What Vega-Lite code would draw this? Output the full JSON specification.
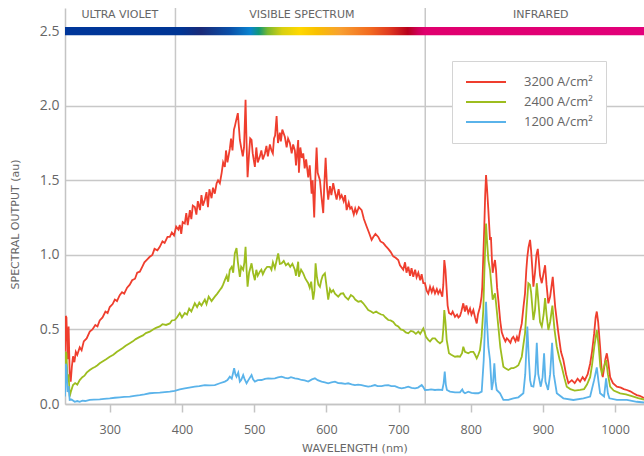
{
  "$schema": "https://vega.github.io/schema/vega-lite/v6.json",
  "width": 579,
  "height": 396,
  "autosize": {"type": "none"},
  "padding": {"left": 65, "top": 8, "right": 0, "bottom": 52},
  "config": {
    "view": {"stroke": null},
    "font": "Open Sans",
    "axis": {"domainColor": "#c4c4c4", "domainWidth": 1.5, "tickColor": "#c4c4c4", "tickWidth": 1.5, "gridColor": "#c8c8c8", "gridWidth": 1.5, "labelColor": "#666666", "titleColor": "#666666", "titleFontWeight": "normal", "titleFont": "DejaVu Sans"}
  },
  "datasets": {
    "separators": [{"w": 391}, {"w": 737}],
    "band": [{"w1": 238, "w2": 1040, "v1": 2.473, "v2": 2.527}],
    "regions": [
      {"t": "ULTRA VIOLET", "w": 314, "v": 2.607},
      {"t": "VISIBLE SPECTRUM", "w": 566, "v": 2.607},
      {"t": "INFRARED", "w": 897, "v": 2.607}
    ],
    "s3200": [{"w":238,"v":0.35},{"w":239,"v":0.59},{"w":240,"v":0.58},{"w":241.5,"v":0.3},{"w":243,"v":0.52},{"w":244.5,"v":0.2},{"w":245.9,"v":0.15},{"w":247.5,"v":0.25},{"w":249.1,"v":0.32},{"w":251,"v":0.28},{"w":253,"v":0.35},{"w":255,"v":0.33},{"w":258.4,"v":0.38},{"w":261,"v":0.36},{"w":264,"v":0.42},{"w":268,"v":0.44},{"w":272.3,"v":0.485},{"w":276,"v":0.5},{"w":280,"v":0.53},{"w":283,"v":0.52},{"w":286.1,"v":0.56},{"w":290,"v":0.58},{"w":294,"v":0.62},{"w":297,"v":0.61},{"w":300,"v":0.65},{"w":304,"v":0.67},{"w":307,"v":0.7},{"w":310,"v":0.69},{"w":313.8,"v":0.73},{"w":317,"v":0.75},{"w":320,"v":0.74},{"w":324,"v":0.78},{"w":327.7,"v":0.8},{"w":331,"v":0.83},{"w":335,"v":0.84},{"w":338,"v":0.88},{"w":341.6,"v":0.887},{"w":345,"v":0.92},{"w":348,"v":0.95},{"w":352,"v":0.97},{"w":355.4,"v":0.987},{"w":359,"v":1.0},{"w":362,"v":1.04},{"w":366,"v":1.03},{"w":369.3,"v":1.054},{"w":373,"v":1.09},{"w":376,"v":1.08},{"w":380,"v":1.12},{"w":383.2,"v":1.12},{"w":386,"v":1.15},{"w":389,"v":1.13},{"w":392,"v":1.19},{"w":395,"v":1.17},{"w":397,"v":1.2},{"w":399,"v":1.14},{"w":401,"v":1.22},{"w":403.9,"v":1.21},{"w":406,"v":1.28},{"w":408,"v":1.2},{"w":411,"v":1.3},{"w":413,"v":1.24},{"w":415,"v":1.33},{"w":417.8,"v":1.32},{"w":420,"v":1.27},{"w":422,"v":1.36},{"w":425,"v":1.3},{"w":427,"v":1.4},{"w":429,"v":1.33},{"w":431.7,"v":1.37},{"w":434,"v":1.42},{"w":436,"v":1.32},{"w":438,"v":1.44},{"w":441,"v":1.38},{"w":443,"v":1.45},{"w":445.5,"v":1.41},{"w":448,"v":1.48},{"w":450,"v":1.5},{"w":452.5,"v":1.48},{"w":455,"v":1.55},{"w":457,"v":1.62},{"w":459.4,"v":1.59},{"w":461,"v":1.7},{"w":463,"v":1.62},{"w":466.3,"v":1.71},{"w":468,"v":1.78},{"w":470,"v":1.7},{"w":472,"v":1.84},{"w":473.2,"v":1.86},{"w":475,"v":1.9},{"w":477.4,"v":1.95},{"w":479,"v":1.85},{"w":480.2,"v":1.77},{"w":482,"v":1.72},{"w":484.3,"v":1.66},{"w":486,"v":1.72},{"w":488.1,"v":2.04},{"w":489.5,"v":1.75},{"w":490.9,"v":1.52},{"w":493,"v":1.68},{"w":494.5,"v":1.78},{"w":496.4,"v":1.77},{"w":498,"v":1.68},{"w":501,"v":1.59},{"w":503,"v":1.72},{"w":505,"v":1.62},{"w":507.9,"v":1.66},{"w":510,"v":1.7},{"w":512,"v":1.64},{"w":514.9,"v":1.68},{"w":517,"v":1.73},{"w":519,"v":1.66},{"w":521.8,"v":1.74},{"w":524,"v":1.7},{"w":525.9,"v":1.68},{"w":527.5,"v":1.78},{"w":529,"v":1.8},{"w":531.1,"v":1.93},{"w":533,"v":1.75},{"w":535.6,"v":1.82},{"w":537,"v":1.76},{"w":539,"v":1.84},{"w":542.6,"v":1.79},{"w":545,"v":1.72},{"w":547,"v":1.78},{"w":549.5,"v":1.75},{"w":552,"v":1.68},{"w":554,"v":1.74},{"w":556.4,"v":1.7},{"w":558,"v":1.6},{"w":561,"v":1.77},{"w":562,"v":1.55},{"w":564,"v":1.72},{"w":566,"v":1.65},{"w":568,"v":1.68},{"w":570,"v":1.58},{"w":572,"v":1.64},{"w":574.9,"v":1.52},{"w":577,"v":1.6},{"w":579.6,"v":1.41},{"w":581,"v":1.5},{"w":583.2,"v":1.25},{"w":585,"v":1.55},{"w":586.5,"v":1.72},{"w":588,"v":1.55},{"w":591.1,"v":1.5},{"w":593,"v":1.4},{"w":595.7,"v":1.28},{"w":597,"v":1.45},{"w":599,"v":1.65},{"w":601,"v":1.45},{"w":602.6,"v":1.37},{"w":605,"v":1.46},{"w":607,"v":1.4},{"w":609.5,"v":1.48},{"w":612,"v":1.42},{"w":614.2,"v":1.37},{"w":617,"v":1.44},{"w":619,"v":1.38},{"w":621.2,"v":1.4},{"w":624,"v":1.36},{"w":626,"v":1.4},{"w":628.1,"v":1.3},{"w":631,"v":1.35},{"w":633,"v":1.31},{"w":635,"v":1.32},{"w":638,"v":1.27},{"w":640,"v":1.31},{"w":642,"v":1.28},{"w":645,"v":1.32},{"w":648.9,"v":1.3},{"w":652,"v":1.24},{"w":655.8,"v":1.19},{"w":659,"v":1.15},{"w":662.7,"v":1.1},{"w":665,"v":1.12},{"w":668,"v":1.14},{"w":671.9,"v":1.12},{"w":675,"v":1.09},{"w":678.8,"v":1.08},{"w":682,"v":1.06},{"w":685.8,"v":1.04},{"w":689,"v":1.02},{"w":692.7,"v":0.99},{"w":696,"v":0.98},{"w":699.6,"v":0.965},{"w":702,"v":0.93},{"w":706.5,"v":0.9},{"w":709,"v":0.95},{"w":711,"v":0.88},{"w":713.5,"v":0.92},{"w":716,"v":0.86},{"w":718,"v":0.91},{"w":720.4,"v":0.853},{"w":723,"v":0.9},{"w":725,"v":0.85},{"w":727.4,"v":0.88},{"w":730,"v":0.83},{"w":732,"v":0.87},{"w":734.3,"v":0.81},{"w":736.6,"v":0.81},{"w":739,"v":0.76},{"w":741.2,"v":0.74},{"w":743.6,"v":0.786},{"w":746,"v":0.75},{"w":748,"v":0.78},{"w":750.5,"v":0.742},{"w":753,"v":0.77},{"w":755,"v":0.74},{"w":757.4,"v":0.764},{"w":760.6,"v":0.72},{"w":762,"v":0.8},{"w":763.4,"v":0.965},{"w":765,"v":0.9},{"w":766.7,"v":0.764},{"w":768,"v":0.66},{"w":769.9,"v":0.61},{"w":773,"v":0.6},{"w":775,"v":0.62},{"w":778.2,"v":0.585},{"w":781,"v":0.6},{"w":783,"v":0.58},{"w":785.1,"v":0.59},{"w":787,"v":0.62},{"w":789.7,"v":0.675},{"w":792,"v":0.62},{"w":794,"v":0.66},{"w":796.6,"v":0.61},{"w":799,"v":0.64},{"w":801,"v":0.6},{"w":803.6,"v":0.63},{"w":806,"v":0.58},{"w":808.3,"v":0.54},{"w":810,"v":0.6},{"w":812.8,"v":0.65},{"w":815,"v":0.72},{"w":816,"v":0.786},{"w":818.8,"v":1.19},{"w":820,"v":1.4},{"w":821.2,"v":1.535},{"w":822.5,"v":1.45},{"w":824.4,"v":1.3},{"w":826.7,"v":1.1},{"w":828,"v":1.12},{"w":829.5,"v":0.95},{"w":830.4,"v":0.88},{"w":832,"v":0.93},{"w":833.6,"v":0.965},{"w":835,"v":0.9},{"w":836.5,"v":0.78},{"w":838.2,"v":0.7},{"w":841,"v":0.55},{"w":843,"v":0.48},{"w":845.2,"v":0.45},{"w":848,"v":0.42},{"w":850,"v":0.44},{"w":852.1,"v":0.43},{"w":855,"v":0.41},{"w":857,"v":0.44},{"w":859,"v":0.45},{"w":862,"v":0.42},{"w":864,"v":0.45},{"w":866,"v":0.42},{"w":868,"v":0.48},{"w":870.7,"v":0.54},{"w":873,"v":0.65},{"w":875.2,"v":0.742},{"w":877,"v":0.9},{"w":878.4,"v":0.987},{"w":880,"v":1.05},{"w":882.2,"v":1.1},{"w":883.6,"v":1.03},{"w":885.4,"v":0.9},{"w":886.8,"v":0.786},{"w":889,"v":0.88},{"w":891,"v":1.0},{"w":892.9,"v":1.04},{"w":894.5,"v":0.95},{"w":896,"v":0.86},{"w":898.4,"v":0.81},{"w":901,"v":0.88},{"w":903,"v":0.93},{"w":905,"v":0.8},{"w":907.5,"v":0.675},{"w":910,"v":0.72},{"w":913.6,"v":0.853},{"w":917,"v":0.65},{"w":921.4,"v":0.475},{"w":925,"v":0.35},{"w":928.3,"v":0.295},{"w":932,"v":0.2},{"w":935.3,"v":0.14},{"w":940,"v":0.16},{"w":944,"v":0.14},{"w":948,"v":0.17},{"w":951.5,"v":0.15},{"w":955,"v":0.18},{"w":958,"v":0.16},{"w":962,"v":0.2},{"w":965.4,"v":0.27},{"w":968,"v":0.35},{"w":970.9,"v":0.47},{"w":973,"v":0.58},{"w":974.6,"v":0.62},{"w":976.5,"v":0.55},{"w":979.2,"v":0.384},{"w":981,"v":0.25},{"w":982.9,"v":0.18},{"w":985,"v":0.25},{"w":986.5,"v":0.3},{"w":988.5,"v":0.34},{"w":990.5,"v":0.28},{"w":993.1,"v":0.18},{"w":997,"v":0.14},{"w":1002.4,"v":0.116},{"w":1008,"v":0.11},{"w":1012,"v":0.1},{"w":1016.3,"v":0.094},{"w":1021,"v":0.085},{"w":1025.4,"v":0.072},{"w":1030,"v":0.06},{"w":1034,"v":0.055},{"w":1040,"v":0.04}],
    "s2400": [{"w":238,"v":0.1},{"w":239,"v":0.35},{"w":240,"v":0.34},{"w":241.5,"v":0.15},{"w":243,"v":0.2},{"w":244.5,"v":0.05},{"w":246,"v":0.08},{"w":249.1,"v":0.127},{"w":252,"v":0.14},{"w":255,"v":0.13},{"w":258.4,"v":0.16},{"w":262,"v":0.18},{"w":265,"v":0.19},{"w":268,"v":0.21},{"w":272.3,"v":0.228},{"w":276,"v":0.24},{"w":280,"v":0.25},{"w":283,"v":0.26},{"w":286.1,"v":0.273},{"w":290,"v":0.285},{"w":295,"v":0.3},{"w":300,"v":0.317},{"w":305,"v":0.33},{"w":310,"v":0.35},{"w":313.8,"v":0.362},{"w":318,"v":0.375},{"w":322,"v":0.39},{"w":327.7,"v":0.407},{"w":332,"v":0.42},{"w":336,"v":0.435},{"w":341.6,"v":0.45},{"w":346,"v":0.46},{"w":350,"v":0.475},{"w":355.4,"v":0.485},{"w":360,"v":0.5},{"w":364,"v":0.51},{"w":369.3,"v":0.52},{"w":373,"v":0.535},{"w":378,"v":0.53},{"w":383.2,"v":0.54},{"w":386,"v":0.56},{"w":390,"v":0.563},{"w":393,"v":0.58},{"w":397,"v":0.61},{"w":400,"v":0.58},{"w":403.9,"v":0.61},{"w":407,"v":0.6},{"w":410,"v":0.64},{"w":413,"v":0.62},{"w":417.8,"v":0.675},{"w":421,"v":0.65},{"w":424,"v":0.68},{"w":427,"v":0.66},{"w":431.7,"v":0.7},{"w":434,"v":0.67},{"w":437,"v":0.72},{"w":441,"v":0.69},{"w":445.5,"v":0.72},{"w":449,"v":0.74},{"w":452.5,"v":0.764},{"w":455,"v":0.78},{"w":457,"v":0.8},{"w":459.4,"v":0.83},{"w":462,"v":0.86},{"w":464,"v":0.82},{"w":466.3,"v":0.9},{"w":469,"v":0.92},{"w":471,"v":0.88},{"w":473.2,"v":1.01},{"w":475.6,"v":1.045},{"w":477.5,"v":0.95},{"w":480.2,"v":0.853},{"w":482,"v":0.92},{"w":484.8,"v":0.9},{"w":486.5,"v":0.95},{"w":488.1,"v":1.054},{"w":489.5,"v":0.9},{"w":490.9,"v":0.786},{"w":493,"v":0.88},{"w":496.4,"v":0.943},{"w":498.5,"v":0.88},{"w":501,"v":0.83},{"w":503,"v":0.9},{"w":505,"v":0.86},{"w":507.9,"v":0.887},{"w":510,"v":0.9},{"w":512,"v":0.87},{"w":514.9,"v":0.9},{"w":518,"v":0.92},{"w":521.8,"v":0.92},{"w":524,"v":0.9},{"w":526,"v":0.95},{"w":528.7,"v":0.91},{"w":531,"v":0.96},{"w":533.3,"v":1.01},{"w":535.6,"v":0.94},{"w":538,"v":0.943},{"w":541,"v":0.96},{"w":544,"v":0.93},{"w":547.1,"v":0.943},{"w":550,"v":0.92},{"w":553,"v":0.94},{"w":556.4,"v":0.9},{"w":558,"v":0.86},{"w":561,"v":0.954},{"w":562,"v":0.853},{"w":565,"v":0.9},{"w":568,"v":0.876},{"w":571,"v":0.84},{"w":574.9,"v":0.81},{"w":577,"v":0.78},{"w":579,"v":0.82},{"w":581.8,"v":0.7},{"w":583.5,"v":0.76},{"w":585.1,"v":0.943},{"w":587,"v":0.85},{"w":589,"v":0.8},{"w":591.1,"v":0.786},{"w":593,"v":0.83},{"w":595,"v":0.86},{"w":598,"v":0.876},{"w":600,"v":0.8},{"w":602.6,"v":0.7},{"w":605,"v":0.77},{"w":607,"v":0.75},{"w":609.5,"v":0.764},{"w":612,"v":0.74},{"w":616.5,"v":0.72},{"w":620,"v":0.74},{"w":623.4,"v":0.742},{"w":626,"v":0.72},{"w":630.3,"v":0.7},{"w":634,"v":0.73},{"w":637.2,"v":0.72},{"w":640,"v":0.7},{"w":644.2,"v":0.686},{"w":648,"v":0.69},{"w":651.1,"v":0.675},{"w":655,"v":0.65},{"w":658,"v":0.63},{"w":662,"v":0.62},{"w":665,"v":0.61},{"w":669,"v":0.62},{"w":671.9,"v":0.61},{"w":676,"v":0.6},{"w":678.8,"v":0.597},{"w":682,"v":0.58},{"w":685.8,"v":0.563},{"w":689,"v":0.56},{"w":692.7,"v":0.55},{"w":696,"v":0.53},{"w":699.6,"v":0.52},{"w":703,"v":0.5},{"w":706.5,"v":0.496},{"w":710,"v":0.48},{"w":713.5,"v":0.474},{"w":717,"v":0.49},{"w":720.4,"v":0.485},{"w":724,"v":0.47},{"w":727.4,"v":0.485},{"w":730,"v":0.47},{"w":734.3,"v":0.507},{"w":736.6,"v":0.474},{"w":738,"v":0.45},{"w":741.2,"v":0.43},{"w":743.6,"v":0.42},{"w":747,"v":0.44},{"w":750.5,"v":0.44},{"w":754,"v":0.42},{"w":757.4,"v":0.407},{"w":760.6,"v":0.42},{"w":762,"v":0.5},{"w":763.4,"v":0.63},{"w":765,"v":0.55},{"w":766.7,"v":0.43},{"w":769.9,"v":0.34},{"w":773,"v":0.33},{"w":778.2,"v":0.317},{"w":782,"v":0.32},{"w":785.1,"v":0.317},{"w":788,"v":0.34},{"w":789.7,"v":0.384},{"w":792,"v":0.35},{"w":796.6,"v":0.34},{"w":800,"v":0.35},{"w":803.6,"v":0.35},{"w":806,"v":0.33},{"w":808.3,"v":0.306},{"w":810.5,"v":0.33},{"w":812.8,"v":0.362},{"w":815,"v":0.45},{"w":817.4,"v":0.63},{"w":819,"v":0.9},{"w":821.2,"v":1.21},{"w":822.5,"v":1.1},{"w":824.4,"v":0.965},{"w":826.7,"v":0.9},{"w":828.5,"v":0.8},{"w":830.4,"v":0.7},{"w":833.6,"v":0.742},{"w":835,"v":0.68},{"w":838.2,"v":0.52},{"w":841,"v":0.38},{"w":845.2,"v":0.25},{"w":848,"v":0.24},{"w":852.1,"v":0.228},{"w":856,"v":0.24},{"w":859,"v":0.24},{"w":863,"v":0.25},{"w":866,"v":0.26},{"w":870.7,"v":0.317},{"w":873,"v":0.4},{"w":875.2,"v":0.474},{"w":877.5,"v":0.65},{"w":879.8,"v":0.81},{"w":882,"v":0.8},{"w":883.6,"v":0.75},{"w":886.8,"v":0.563},{"w":889,"v":0.63},{"w":891.5,"v":0.81},{"w":893.5,"v":0.7},{"w":896,"v":0.55},{"w":898.4,"v":0.52},{"w":901,"v":0.6},{"w":903,"v":0.71},{"w":905,"v":0.6},{"w":907.5,"v":0.496},{"w":910,"v":0.55},{"w":913.1,"v":0.66},{"w":916,"v":0.5},{"w":919.2,"v":0.384},{"w":923,"v":0.3},{"w":926.1,"v":0.25},{"w":930,"v":0.17},{"w":933,"v":0.116},{"w":938,"v":0.1},{"w":944,"v":0.09},{"w":951.5,"v":0.094},{"w":957,"v":0.1},{"w":961,"v":0.13},{"w":965.4,"v":0.18},{"w":968,"v":0.26},{"w":971,"v":0.38},{"w":974.6,"v":0.496},{"w":977,"v":0.4},{"w":979.5,"v":0.25},{"w":981.6,"v":0.206},{"w":984,"v":0.24},{"w":987.5,"v":0.295},{"w":990,"v":0.2},{"w":993.1,"v":0.116},{"w":998,"v":0.09},{"w":1007,"v":0.072},{"w":1015,"v":0.065},{"w":1025.4,"v":0.05},{"w":1032,"v":0.04},{"w":1040,"v":0.03}],
    "s1200": [{"w":238,"v":0.05},{"w":239,"v":0.27},{"w":240,"v":0.25},{"w":241.5,"v":0.08},{"w":243,"v":0.12},{"w":244.5,"v":0.027},{"w":247,"v":0.03},{"w":251.5,"v":0.015},{"w":255,"v":0.02},{"w":258.4,"v":0.015},{"w":262,"v":0.022},{"w":266,"v":0.02},{"w":272.3,"v":0.027},{"w":278,"v":0.03},{"w":286.1,"v":0.031},{"w":292,"v":0.035},{"w":300,"v":0.038},{"w":307,"v":0.042},{"w":313.8,"v":0.045},{"w":320,"v":0.048},{"w":327.7,"v":0.05},{"w":334,"v":0.055},{"w":341.6,"v":0.06},{"w":348,"v":0.065},{"w":355.4,"v":0.072},{"w":362,"v":0.074},{"w":369.3,"v":0.076},{"w":376,"v":0.08},{"w":383.2,"v":0.083},{"w":390,"v":0.088},{"w":397,"v":0.098},{"w":403.9,"v":0.105},{"w":410,"v":0.11},{"w":417.8,"v":0.116},{"w":424,"v":0.12},{"w":431.7,"v":0.127},{"w":438,"v":0.125},{"w":445.5,"v":0.127},{"w":452.5,"v":0.139},{"w":459.4,"v":0.15},{"w":463,"v":0.16},{"w":466.3,"v":0.183},{"w":469,"v":0.17},{"w":472.3,"v":0.24},{"w":474,"v":0.2},{"w":475.6,"v":0.183},{"w":478,"v":0.21},{"w":480.2,"v":0.15},{"w":482,"v":0.16},{"w":484.8,"v":0.194},{"w":486.5,"v":0.17},{"w":489.5,"v":0.139},{"w":492,"v":0.16},{"w":496.4,"v":0.194},{"w":498.5,"v":0.165},{"w":501,"v":0.15},{"w":505,"v":0.16},{"w":510.3,"v":0.161},{"w":515,"v":0.168},{"w":519.4,"v":0.172},{"w":524,"v":0.17},{"w":528.7,"v":0.172},{"w":533,"v":0.178},{"w":538,"v":0.183},{"w":543,"v":0.175},{"w":547.1,"v":0.172},{"w":551,"v":0.18},{"w":556.4,"v":0.172},{"w":561,"v":0.168},{"w":565.7,"v":0.161},{"w":570,"v":0.158},{"w":574.9,"v":0.15},{"w":580,"v":0.165},{"w":584.2,"v":0.172},{"w":588,"v":0.16},{"w":593.4,"v":0.15},{"w":598,"v":0.145},{"w":602.6,"v":0.139},{"w":607,"v":0.145},{"w":611.9,"v":0.15},{"w":616.5,"v":0.14},{"w":621.2,"v":0.139},{"w":626,"v":0.135},{"w":630.3,"v":0.139},{"w":635,"v":0.132},{"w":639.6,"v":0.127},{"w":644,"v":0.13},{"w":648.9,"v":0.127},{"w":653,"v":0.122},{"w":658,"v":0.116},{"w":662,"v":0.12},{"w":667.3,"v":0.127},{"w":671,"v":0.12},{"w":676.6,"v":0.12},{"w":681,"v":0.125},{"w":685.8,"v":0.127},{"w":690,"v":0.12},{"w":695,"v":0.12},{"w":700,"v":0.11},{"w":704.3,"v":0.105},{"w":709,"v":0.11},{"w":713.5,"v":0.116},{"w":718,"v":0.108},{"w":722.8,"v":0.105},{"w":727,"v":0.11},{"w":732.1,"v":0.127},{"w":734,"v":0.115},{"w":736.6,"v":0.094},{"w":741,"v":0.095},{"w":745,"v":0.098},{"w":750.5,"v":0.094},{"w":755,"v":0.096},{"w":760.6,"v":0.094},{"w":762.5,"v":0.14},{"w":764,"v":0.217},{"w":765.5,"v":0.13},{"w":767,"v":0.094},{"w":771.3,"v":0.083},{"w":778.2,"v":0.078},{"w":785.1,"v":0.078},{"w":788.3,"v":0.098},{"w":790,"v":0.08},{"w":792.1,"v":0.072},{"w":796.6,"v":0.083},{"w":801,"v":0.075},{"w":806,"v":0.072},{"w":810.5,"v":0.072},{"w":815.2,"v":0.083},{"w":818,"v":0.295},{"w":819.5,"v":0.5},{"w":821.2,"v":0.686},{"w":822.5,"v":0.55},{"w":824.4,"v":0.384},{"w":826.7,"v":0.295},{"w":829.1,"v":0.094},{"w":831,"v":0.15},{"w":832.7,"v":0.273},{"w":834.3,"v":0.15},{"w":836,"v":0.094},{"w":840.6,"v":0.072},{"w":845.2,"v":0.027},{"w":852.1,"v":0.027},{"w":859,"v":0.038},{"w":866,"v":0.045},{"w":872.9,"v":0.072},{"w":875.5,"v":0.2},{"w":878.4,"v":0.52},{"w":880.5,"v":0.3},{"w":882.2,"v":0.16},{"w":884,"v":0.12},{"w":886.8,"v":0.116},{"w":889.5,"v":0.2},{"w":891.5,"v":0.41},{"w":893.5,"v":0.2},{"w":897,"v":0.116},{"w":899.5,"v":0.18},{"w":901.6,"v":0.34},{"w":903.5,"v":0.15},{"w":907.1,"v":0.094},{"w":910,"v":0.2},{"w":912.7,"v":0.41},{"w":915,"v":0.2},{"w":919.2,"v":0.072},{"w":928.3,"v":0.038},{"w":942.2,"v":0.027},{"w":956.1,"v":0.038},{"w":965.4,"v":0.05},{"w":970.9,"v":0.16},{"w":974.6,"v":0.245},{"w":977,"v":0.15},{"w":979.2,"v":0.072},{"w":984.7,"v":0.05},{"w":987.5,"v":0.172},{"w":990,"v":0.07},{"w":992.1,"v":0.038},{"w":1002.4,"v":0.027},{"w":1016.3,"v":0.027},{"w":1030.1,"v":0.015},{"w":1040,"v":0.01}]
  },
  "layer": [
    {
      "data": {"name": "separators"},
      "mark": {"type": "rule", "color": "#c8c8c8", "strokeWidth": 1.5},
      "encoding": {
        "x": {"field": "w", "type": "quantitative", "scale": {"domain": [238, 1040], "nice": false, "zero": false},
              "axis": {"values": [300, 400, 500, 600, 700, 800, 900, 1000], "format": "d", "title": "WAVELENGTH (nm)", "grid": false, "tickSize": 8, "labelFontSize": 12.5, "labelPadding": 11, "titleFontSize": 11, "titlePadding": 7}}
      }
    },
    {
      "data": {"name": "band"},
      "mark": {"type": "rect", "fill": {"gradient": "linear", "x1": 0, "x2": 1, "y1": 0, "y2": 0, "stops": [
        {"offset": 0, "color": "#00369a"},
        {"offset": 0.2, "color": "#003594"},
        {"offset": 0.235, "color": "#1a2a78"},
        {"offset": 0.285, "color": "#0a4fa8"},
        {"offset": 0.32, "color": "#0a84d0"},
        {"offset": 0.335, "color": "#109878"},
        {"offset": 0.35, "color": "#78b830"},
        {"offset": 0.375, "color": "#d8d010"},
        {"offset": 0.405, "color": "#ffd800"},
        {"offset": 0.435, "color": "#f9c000"},
        {"offset": 0.475, "color": "#f8a030"},
        {"offset": 0.527, "color": "#f26a20"},
        {"offset": 0.56, "color": "#e03a20"},
        {"offset": 0.592, "color": "#b8001c"},
        {"offset": 0.61, "color": "#d0005a"},
        {"offset": 0.622, "color": "#e0006e"},
        {"offset": 1, "color": "#e2007a"}
      ]}},
      "encoding": {
        "x": {"field": "w1", "type": "quantitative"},
        "x2": {"field": "w2"},
        "y": {"field": "v1", "type": "quantitative"},
        "y2": {"field": "v2"}
      }
    },
    {
      "data": {"name": "regions"},
      "mark": {"type": "text", "font": "DejaVu Sans", "fontSize": 11, "color": "#666666", "align": "center", "baseline": "middle"},
      "encoding": {
        "x": {"field": "w", "type": "quantitative"},
        "y": {"field": "v", "type": "quantitative"},
        "text": {"field": "t"}
      }
    },
    {
      "data": {"name": "s3200"},
      "mark": {"type": "line", "strokeWidth": 1.8, "clip": true},
      "encoding": {
        "x": {"field": "w", "type": "quantitative"},
        "y": {"field": "v", "type": "quantitative", "scale": {"domain": [0, 2.655], "nice": false},
              "axis": {"values": [0, 0.5, 1, 1.5, 2, 2.5], "format": ".1f", "title": "SPECTRAL OUTPUT (au)", "grid": true, "ticks": false, "tickSize": 0, "labelPadding": 6, "labelFontSize": 14, "titleFontSize": 11, "titleX": -45, "titleY": 216}},
        "color": {"datum": "3200 A/cm²", "type": "nominal",
                  "scale": {"domain": ["3200 A/cm²", "2400 A/cm²", "1200 A/cm²"], "range": ["#ef3e2e", "#9dbd1f", "#5ab3ea"]},
                  "legend": {"orient": "none", "legendX": 387, "legendY": 53, "title": null, "symbolType": "stroke", "symbolSize": 1600, "symbolStrokeWidth": 2, "clipHeight": 16, "labelFontSize": 13, "labelColor": "#666666", "labelOffset": 17, "padding": 13, "rowPadding": 4, "fillColor": "white", "strokeColor": "#d4d4d4", "labelExpr": "datum.label + '\u00a0\u00a0\u00a0\u00a0\u00a0'"}}
      }
    },
    {
      "data": {"name": "s2400"},
      "mark": {"type": "line", "strokeWidth": 1.8, "clip": true},
      "encoding": {
        "x": {"field": "w", "type": "quantitative"},
        "y": {"field": "v", "type": "quantitative"},
        "color": {"datum": "2400 A/cm²", "type": "nominal"}
      }
    },
    {
      "data": {"name": "s1200"},
      "mark": {"type": "line", "strokeWidth": 1.8, "clip": true},
      "encoding": {
        "x": {"field": "w", "type": "quantitative"},
        "y": {"field": "v", "type": "quantitative"},
        "color": {"datum": "1200 A/cm²", "type": "nominal"}
      }
    }
  ]
}
